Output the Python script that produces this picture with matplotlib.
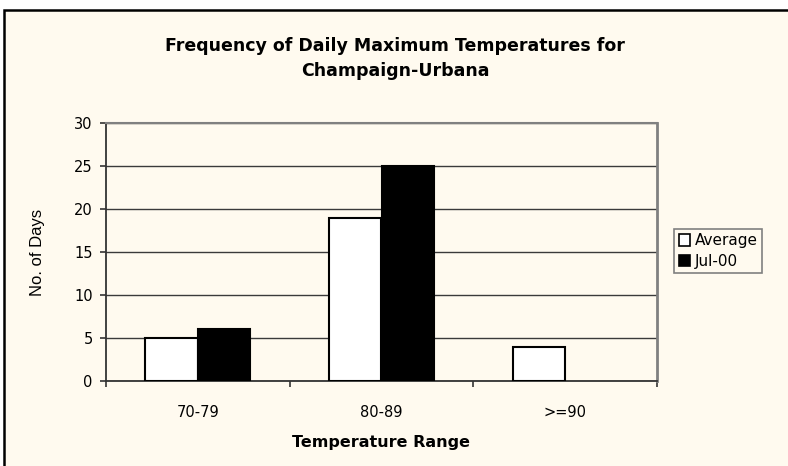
import matplotlib
matplotlib.use("Agg")
import matplotlib.pyplot as plt
import numpy as np
from matplotlib.patches import Rectangle, Patch

categories = ["70-79", "80-89", ">=90"]
average = [5, 19, 4]
jul00 = [6, 25, 0]
series_names = ["Average", "Jul-00"]
yticks = [0, 5, 10, 15, 20, 25, 30]

plt.rcParams['font.family'] = ['DejaVu Sans']

W, H = 788, 466
fig = plt.figure(figsize=(W / 100, H / 100), dpi=100)
fig.patch.set_facecolor("white")
cream = "#FFFAEF"

# chart-area border (white outside top/left, cream inside; right/bottom edges off-canvas)
bg = Rectangle((4 / W, -0.5), 2.0, (H - 10) / H + 0.5, transform=fig.transFigure,
               facecolor=cream, edgecolor="black", linewidth=1.8, zorder=-10)
fig.patches.append(bg)

ax = fig.add_axes([106 / W, (H - 381) / H, (657 - 106) / W, (381 - 123) / H])
ax.set_facecolor(cream)

x = np.arange(len(categories))
bw = 0.286
ax.bar(x - bw / 2, average, bw, color="white", edgecolor="black",
       linewidth=[1.5 if v else 0 for v in average], zorder=3)
ax.bar(x + bw / 2, jul00, bw, color="black", edgecolor="black",
       linewidth=[1.5 if v else 0 for v in jul00], zorder=3)

ax.set_xlim(-0.5, len(categories) - 0.5)
ax.set_ylim(0, 30)
ax.set_yticks(yticks)
ax.set_yticklabels([str(v) for v in yticks])
ax.yaxis.grid(True, color="#3a3a3a", linewidth=1.0, zorder=0)
ax.set_axisbelow(True)

ax.set_xticks(x)
ax.set_xticklabels(categories)
ax.set_xticks(np.arange(len(categories) + 1) - 0.5, minor=True)
ax.tick_params(axis="x", which="major", length=0, pad=17, labelsize=10.5, colors="black")
ax.tick_params(axis="x", which="minor", length=4.5, width=1.2, direction="out", color="#333333")
ax.tick_params(axis="y", length=4.5, width=1.2, direction="out", pad=5, labelsize=10.5, color="#333333")

for side in ["left", "bottom"]:
    ax.spines[side].set_color("#333333")
    ax.spines[side].set_linewidth(1.3)
ax.spines["top"].set_color("#808080")
ax.spines["top"].set_linewidth(1.5)
ax.spines["right"].set_color("#808080")
ax.spines["right"].set_linewidth(2)

ax.set_xlabel("Temperature Range", fontsize=11.5, fontweight="bold", va="center")
ax.xaxis.set_label_coords(0.5, (381 - 442) / 258)
ax.set_ylabel("No. of Days", fontsize=12, va="center",
              family=["Liberation Sans", "DejaVu Sans"])
ax.yaxis.set_label_coords((38 - 106) / 551, 0.5)

fig.text(395 / W, 1 - 58.5 / H, "Frequency of Daily Maximum Temperatures for\nChampaign-Urbana",
         ha="center", va="center", fontsize=12.5, fontweight="bold", linespacing=1.45)

handles = [Patch(facecolor="white", edgecolor="black", linewidth=1.2),
           Patch(facecolor="black", edgecolor="black", linewidth=1.2)]
leg = ax.legend(handles, series_names, loc="center left",
                bbox_to_anchor=(674 / W, 1 - 251 / H), bbox_transform=fig.transFigure,
                fontsize=11, handlelength=0.75, handleheight=0.75, handletextpad=0.3,
                borderpad=0.3, labelspacing=0.35, borderaxespad=0, fancybox=False,
                frameon=True, edgecolor="#808080", facecolor=cream, framealpha=1)
leg.get_frame().set_linewidth(1.2)

fig.savefig("out.png", dpi=100, facecolor=fig.get_facecolor())
